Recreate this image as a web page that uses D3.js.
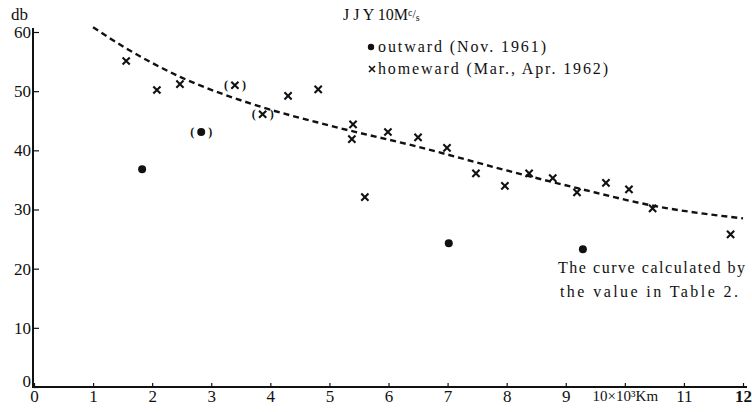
<!DOCTYPE html>
<html>
<head>
<meta charset="utf-8">
<script src="https://cdn.jsdelivr.net/npm/d3@7"></script>
<style>
  body { margin: 0; background: #fff; }
  svg { display: block; font-family: "Liberation Serif", "DejaVu Serif", serif; color: #111; }
</style>
</head>
<body>
<svg id="chart" width="752" height="412"></svg>
<script>
/* Data (distance in 10^3 km, level in db) */
const homewardDist = [1.56, 2.08, 2.47, 3.40, 3.87, 4.30, 4.81, 5.40, 5.38, 5.60, 5.99, 6.50, 6.99, 7.48, 7.97, 8.38, 8.78, 9.19, 9.68, 10.07, 10.47, 11.79];
const homewardDb   = [55.1, 50.2, 51.2, 51.0, 46.1, 49.2, 50.3, 44.4, 41.9, 32.1, 43.1, 42.2, 40.4, 36.1, 34.0, 36.1, 35.3, 32.9, 34.5, 33.4, 30.2, 25.8];
const homewardBracketed = [3, 4]; // indices drawn as "(x)"

const outwardDist = [1.83, 2.83, 7.02, 9.29];
const outwardDb   = [36.8, 43.1, 24.3, 23.3];
const outwardBracketed = [1];

// calculated curve (Table 2)
const curveDist = [1.0, 1.6, 2.5, 3.7, 5.0, 6.5, 8.0, 9.2, 10.5, 12.0];
const curveDb   = [60.8, 57.0, 52.3, 47.8, 44.2, 40.6, 36.6, 33.6, 30.6, 28.5];

const xTicks = [0, 1, 2, 3, 4, 5, 6, 7, 8, 9, 10, 11, 12];
const yTicks = [0, 10, 20, 30, 40, 50, 60];

/* Layout */
const INK = '#111';
const FONT = '"Liberation Serif", "DejaVu Serif", serif';
const svg = d3.select('#chart');

const x = d3.scaleLinear().domain([0, 12]).range([34, 743]);
const y = d3.scaleLinear().domain([0, 60]).range([387, 32]);

// x axis: small ticks pointing up, labels below
const xAxis = svg.append('g')
  .attr('transform', `translate(0,${y(0)})`)
  .call(d3.axisBottom(x)
    .tickValues(xTicks)
    .tickSizeInner(-4)
    .tickSizeOuter(0)
    .tickPadding(3)
    .tickFormat(d => d === 10 ? '10×10³Km' : d))
  .attr('font-family', FONT)
  .attr('font-size', 17);
xAxis.select('.domain')
  .attr('d', `M${x(0) - 1},0H${x(12) + 4}`)
  .attr('stroke', INK).attr('stroke-width', 2);
xAxis.selectAll('.tick line').attr('stroke', INK).attr('stroke-width', 1.2);
xAxis.selectAll('.tick text').attr('fill', INK);
xAxis.selectAll('.tick').filter(d => d === 10).select('text').attr('font-size', 15);
xAxis.selectAll('.tick').filter(d => d === 12).select('text').attr('font-weight', 'bold');

// y axis: ticks pointing right into the plot
const yAxis = svg.append('g')
  .attr('transform', `translate(${x(0) - 1},0)`)
  .call(d3.axisLeft(y)
    .tickValues(yTicks)
    .tickSizeInner(-6)
    .tickSizeOuter(0)
    .tickPadding(2))
  .attr('font-family', FONT)
  .attr('font-size', 17);
yAxis.select('.domain')
  .attr('d', `M0,${y(60) - 4}V${y(0) + 1}`)
  .attr('stroke', INK).attr('stroke-width', 2);
yAxis.selectAll('.tick line').attr('stroke', INK).attr('stroke-width', 1.2);
yAxis.selectAll('.tick text').attr('fill', INK);
yAxis.selectAll('.tick').filter(d => d === 0).select('text').attr('dy', '-0.05em');

svg.append('text')
  .attr('x', 11).attr('y', 20)
  .attr('fill', INK)
  .style('font-size', '17px')
  .text('db');

// calculated curve
const line = d3.line()
  .x((d, i) => x(curveDist[i]))
  .y(d => y(d))
  .curve(d3.curveMonotoneX);

svg.append('path')
  .attr('d', line(curveDb))
  .attr('fill', 'none')
  .attr('stroke', INK)
  .attr('stroke-width', 2.4)
  .attr('stroke-dasharray', '6,4');

// homeward crosses
const cross = 3.6;
svg.append('g')
  .selectAll('path')
  .data(homewardDb)
  .join('path')
  .attr('d', (d, i) => {
    const cx = x(homewardDist[i]);
    const cy = y(d);
    return `M${cx - cross},${cy - cross}L${cx + cross},${cy + cross}M${cx + cross},${cy - cross}L${cx - cross},${cy + cross}`;
  })
  .attr('stroke', INK)
  .attr('stroke-width', 2.1);

// outward dots
svg.append('g')
  .selectAll('circle')
  .data(outwardDb)
  .join('circle')
  .attr('cx', (d, i) => x(outwardDist[i]))
  .attr('cy', d => y(d))
  .attr('r', 4)
  .attr('fill', INK);

// brackets around doubtful points
function brackets (dist, db) {
  const g = svg.append('g')
    .style('font-size', '12px')
    .style('font-weight', 'bold')
    .attr('fill', INK);
  g.append('text')
    .attr('x', x(dist) - 11).attr('y', y(db) + 4)
    .text('(');
  g.append('text')
    .attr('x', x(dist) + 7).attr('y', y(db) + 4)
    .text(')');
}
homewardBracketed.forEach(i => brackets(homewardDist[i], homewardDb[i]));
outwardBracketed.forEach(i => brackets(outwardDist[i], outwardDb[i]));

// title
const title = svg.append('text')
  .attr('x', 343).attr('y', 20)
  .attr('fill', INK)
  .style('font-size', '16px');
title.append('tspan').text('J J Y  10M');
title.append('tspan').attr('dy', -4).style('font-size', '10px').text('c');
title.append('tspan').attr('dy', 2).style('font-size', '12px').text('/');
title.append('tspan').attr('dy', 3).style('font-size', '10px').text('s');

// legend
svg.append('circle').attr('cx', 371).attr('cy', 47).attr('r', 3.2).attr('fill', INK);
svg.append('text')
  .attr('x', 378).attr('y', 52)
  .attr('fill', INK)
  .style('font-size', '16px')
  .attr('textLength', 168).attr('lengthAdjust', 'spacing')
  .text('outward  (Nov. 1961)');

svg.append('path')
  .attr('d', 'M369,66L375,72M375,66L369,72')
  .attr('stroke', INK).attr('stroke-width', 1.6);
svg.append('text')
  .attr('x', 378).attr('y', 74)
  .attr('fill', INK)
  .style('font-size', '16px')
  .attr('textLength', 230).attr('lengthAdjust', 'spacing')
  .text('homeward  (Mar., Apr. 1962)');

// note on the curve
svg.append('text')
  .attr('x', 745).attr('y', 273)
  .attr('text-anchor', 'end')
  .attr('fill', INK)
  .style('font-size', '16px')
  .attr('textLength', 187).attr('lengthAdjust', 'spacing')
  .text('The curve calculated by');
svg.append('text')
  .attr('x', 738).attr('y', 297)
  .attr('text-anchor', 'end')
  .attr('fill', INK)
  .style('font-size', '16px')
  .attr('textLength', 178).attr('lengthAdjust', 'spacing')
  .text('the value in Table 2.');
</script>
</body>
</html>
